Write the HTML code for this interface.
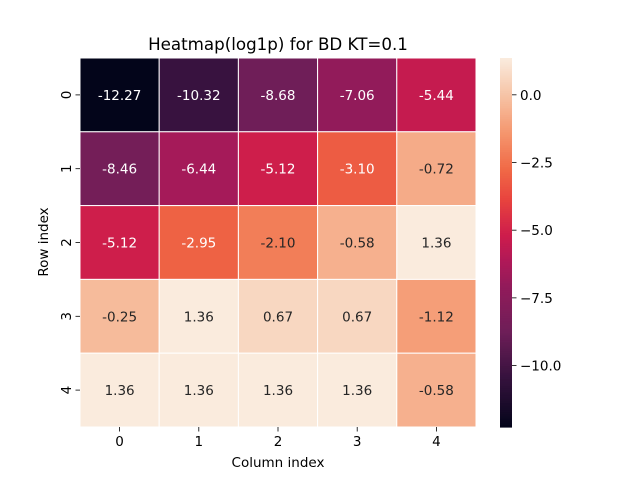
<!DOCTYPE html>
<html><head><meta charset="utf-8"><style>
body{margin:0;background:#fff;font-family:"DejaVu Sans","Liberation Sans",sans-serif}
</style></head><body>
<svg id="c" width="640" height="480" xmlns="http://www.w3.org/2000/svg" font-family="DejaVu Sans, Liberation Sans, sans-serif"></svg>
<script>
const rowLabels=["0","1","2","3","4"];
const colLabels=["0","1","2","3","4"];
const values=[
[-12.27,-10.32,-8.68,-7.06,-5.44],
[-8.46,-6.44,-5.12,-3.10,-0.72],
[-5.12,-2.95,-2.10,-0.58,1.36],
[-0.25,1.36,0.67,0.67,-1.12],
[1.36,1.36,1.36,1.36,-0.58]];
const cbTicks=[0.0,-2.5,-5.0,-7.5,-10.0];
const cbTickLabels=["0.0","\u22122.5","\u22125.0","\u22127.5","\u221210.0"];

const svg=document.getElementById('c');
const NS="http://www.w3.org/2000/svg";
function mk(t,a,p){const e=document.createElementNS(NS,t);for(const k in a)e.setAttribute(k,a[k]);(p||svg).appendChild(e);return e;}
const X0=80,X1=476,Y0=58,Y1=427;
const vmin=Math.min(...values.flat()),vmax=Math.max(...values.flat());
const cw=(X1-X0)/colLabels.length,ch=(Y1-Y0)/rowLabels.length;
const xPos=j=>X0+j*cw, yPos=i=>Y0+i*ch;
const stops=[[0,[3,5,26]],[0.14,[55,18,62]],[0.26,[110,30,88]],[0.38,[145,27,90]],[0.45,[175,25,88]],[0.52,[205,28,76]],[0.62,[232,68,62]],[0.7,[240,105,70]],[0.8,[245,150,110]],[0.9,[246,195,165]],[1,[250,235,221]]];
function cmap(t){t=Math.max(0,Math.min(1,t));for(let i=1;i<stops.length;i++){if(t<=stops[i][0]){const a=stops[i-1],b=stops[i],f=(t-a[0])/(b[0]-a[0]);const c=a[1].map((v,k)=>Math.round(v+(b[1][k]-v)*f));return `rgb(${c})`;}}return 'rgb(250,235,221)';}
const norm=v=>(v-vmin)/(vmax-vmin);

const t=mk('text',{x:278,y:50,'text-anchor':'middle','font-size':'16.7'});t.textContent="Heatmap(log1p) for BD KT=0.1";



values.forEach((row,i)=>row.forEach((v,j)=>{
 const r=mk('rect',{x:xPos(j),y:yPos(i),width:cw,height:ch,fill:cmap(norm(v)),stroke:'#fff','stroke-width':1});
 
 
 const tx=mk('text',{x:xPos(j)+cw/2,y:yPos(i)+ch/2+5,'text-anchor':'middle','font-size':'13.5',fill:norm(v)>0.72?'#262626':'#fff'});
 tx.textContent=v.toFixed(2);
 
 
}));
colLabels.forEach((l,j)=>{
 const x=xPos(j)+cw/2;
 mk('line',{x1:x,x2:x,y1:Y1,y2:Y1+4.5,stroke:'#000','stroke-width':0.8});
 const e=mk('text',{x:x,y:Y1+19,'text-anchor':'middle','font-size':'13.5'});e.textContent=l;
 
 
});
rowLabels.forEach((l,i)=>{
 const y=yPos(i)+ch/2;
 mk('line',{x1:X0-4.5,x2:X0,y1:y,y2:y,stroke:'#000','stroke-width':0.8});
 const e=mk('text',{x:0,y:0,'text-anchor':'middle','font-size':'13.5',transform:`translate(${X0-9},${y}) rotate(-90)`});e.textContent=l;
 
 
});
const xt=mk('text',{x:278,y:467,'text-anchor':'middle','font-size':'13.5'});xt.textContent="Column index";


const yt=mk('text',{x:0,y:0,'text-anchor':'middle','font-size':'13.5',transform:`translate(48,242) rotate(-90)`});yt.textContent="Row index";



const CX=500,CW=12;
const cbY=v=>Y0+(vmax-v)/(vmax-vmin)*(Y1-Y0);
const g=mk('g',{});


for(let k=0;k<200;k++){const v0=vmax-(vmax-vmin)*k/200;mk('rect',{x:CX,y:cbY(v0),width:CW,height:(Y1-Y0)/200+0.6,fill:cmap(norm(v0))},g);}
cbTicks.forEach((v,k)=>{
 const y=cbY(v);
 mk('line',{x1:CX+CW,x2:CX+CW+4.5,y1:y,y2:y,stroke:'#000','stroke-width':0.8});
 const e=mk('text',{x:CX+CW+8,y:y+5,'font-size':'13.5'});e.textContent=cbTickLabels[k];
 
 
});
</script>
</body></html>
